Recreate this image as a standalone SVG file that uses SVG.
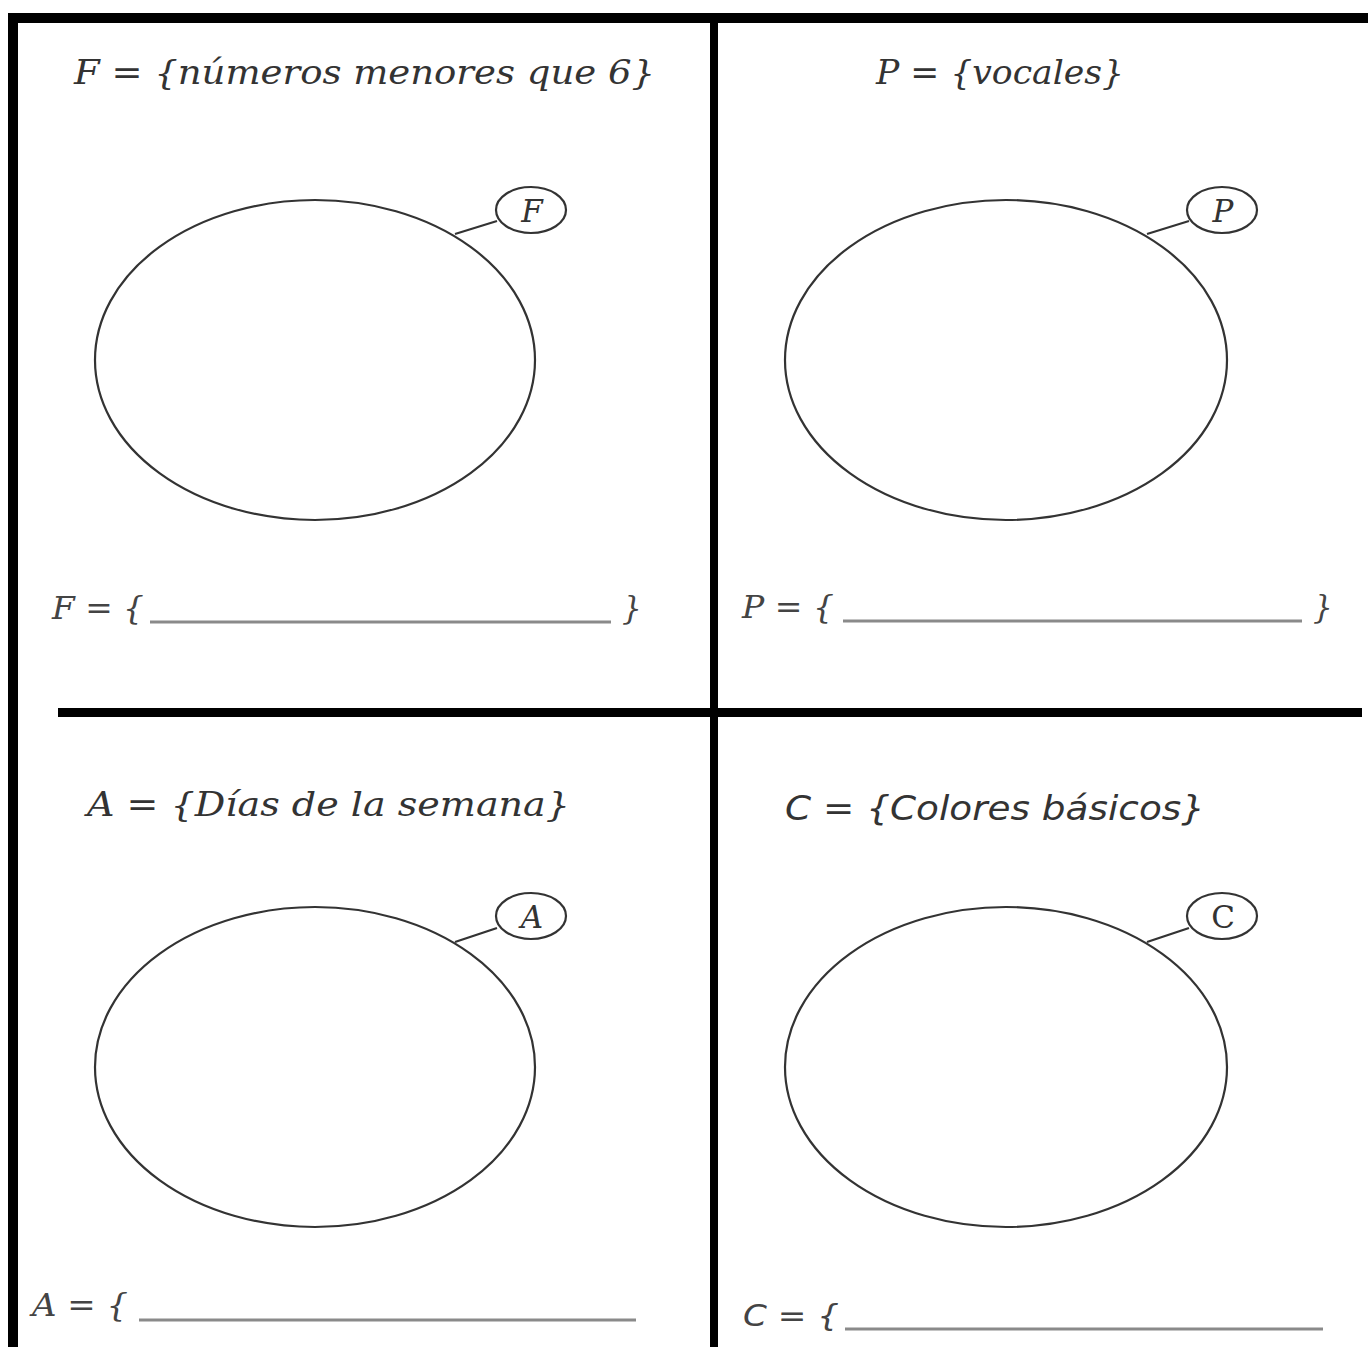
<svg xmlns="http://www.w3.org/2000/svg" width="1368" height="1347" viewBox="0 0 1368 1347">
<style>
.set{fill:none;stroke:#333;stroke-width:2.2}
.tag{fill:#fff;stroke:#333;stroke-width:2.2}
.lead{stroke:#333;stroke-width:2.2}
.title{font-family:"DejaVu Serif","Liberation Serif",serif;font-style:italic;font-size:33px;fill:#333}
.stitle{font-family:"DejaVu Sans","Liberation Sans",sans-serif;font-style:oblique;font-size:33px;fill:#333}
.tagt{font-family:"DejaVu Serif","Liberation Serif",serif;font-style:italic;font-size:31px;fill:#333;text-anchor:middle}
.ans{font-family:"DejaVu Serif","Liberation Serif",serif;font-style:italic;font-size:31px;fill:#444}
.blank{stroke:#8a8a8a;stroke-width:3}
.frame{fill:#000}
</style>
<rect width="1368" height="1347" fill="#fff"/>
<g id="frame">
<rect class="frame" x="8" y="13" width="1360" height="10"/>
<rect class="frame" x="8" y="13" width="10" height="1334"/>
<rect class="frame" x="710" y="13" width="8" height="1334"/>
<rect class="frame" x="58" y="708" width="1304" height="9"/>
</g>
<g id="connectors">
<line class="lead" x1="455" y1="234" x2="497" y2="221"/>
<line class="lead" x1="1147" y1="234" x2="1189" y2="221"/>
<line class="lead" x1="455" y1="942" x2="497" y2="928"/>
<line class="lead" x1="1147" y1="942" x2="1189" y2="928"/>
</g>
<g id="setF">
<text class="title" x="74" y="84" textLength="581" lengthAdjust="spacingAndGlyphs">F = {números menores que 6}</text>
<ellipse class="set" cx="315" cy="360" rx="220" ry="160"/>
<ellipse class="tag" cx="531" cy="210" rx="35" ry="23"/>
<text class="tagt" x="532" y="222">F</text>
<text class="ans" x="52" y="619" textLength="92" lengthAdjust="spacingAndGlyphs">F = {</text>
<line class="blank" x1="150" y1="622" x2="611" y2="622"/>
<text class="ans" x="622" y="619">}</text>
</g>
<g id="setP">
<text class="title" x="876" y="84" textLength="248" lengthAdjust="spacingAndGlyphs">P = {vocales}</text>
<ellipse class="set" cx="1006" cy="360" rx="221" ry="160"/>
<ellipse class="tag" cx="1222" cy="210" rx="35" ry="23"/>
<text class="tagt" x="1223" y="222">P</text>
<text class="ans" x="742" y="618" textLength="92" lengthAdjust="spacingAndGlyphs">P = {</text>
<line class="blank" x1="843" y1="621" x2="1302" y2="621"/>
<text class="ans" x="1313" y="618">}</text>
</g>
<g id="setA">
<text class="title" x="87" y="816" textLength="483" lengthAdjust="spacingAndGlyphs">A = {Días de la semana}</text>
<ellipse class="set" cx="315" cy="1067" rx="220" ry="160"/>
<ellipse class="tag" cx="531" cy="916" rx="35" ry="23"/>
<text class="tagt" x="532" y="928">A</text>
<text class="ans" x="32" y="1316" textLength="96" lengthAdjust="spacingAndGlyphs">A = {</text>
<line class="blank" x1="139" y1="1320" x2="636" y2="1320"/>
</g>
<g id="setC">
<text class="stitle" x="785" y="820" textLength="420" lengthAdjust="spacingAndGlyphs">C = {Colores básicos}</text>
<ellipse class="set" cx="1006" cy="1067" rx="221" ry="160"/>
<ellipse class="tag" cx="1222" cy="916" rx="35" ry="23"/>
<text class="tagt" x="1223" y="928" style="font-style:normal">C</text>
<text class="ans" x="743" y="1326" textLength="96" lengthAdjust="spacingAndGlyphs" style="font-family:'DejaVu Sans','Liberation Sans',sans-serif">C = {</text>
<line class="blank" x1="845" y1="1329" x2="1323" y2="1329"/>
</g>
</svg>
